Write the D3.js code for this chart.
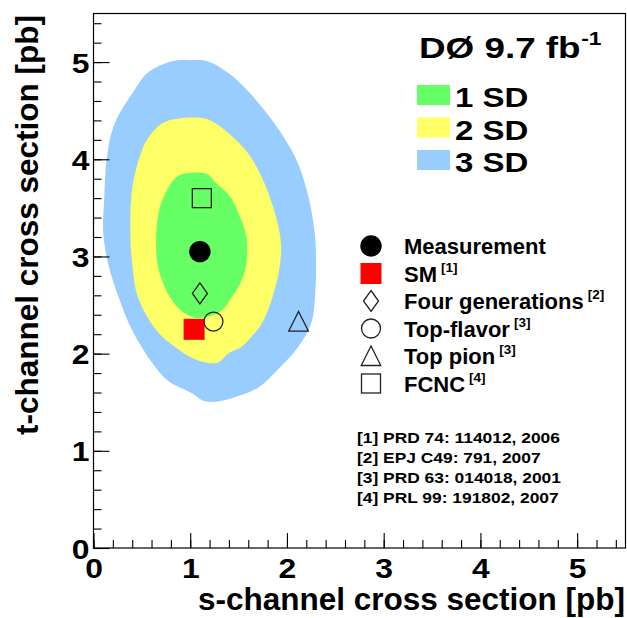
<!DOCTYPE html>
<html>
<head>
<meta charset="utf-8">
<script src="https://cdn.jsdelivr.net/npm/d3@7"></script>
<style>
  html, body { margin: 0; padding: 0; background: #fff; }
  svg { display: block; }
  text { font-family: "Liberation Sans", Arial, Helvetica, sans-serif; font-weight: bold; fill: #000; }
</style>
</head>
<body>
<svg id="chart" width="627" height="618"></svg>
<script>
// Confidence regions in the (s-channel, t-channel) cross-section plane, in pb
const contour3SD = [
  [0.82,5.01],[1.00,5.02],[1.17,5.01],[1.39,4.89],[1.58,4.72],[1.87,4.37],[2.08,4.03],
  [2.20,3.70],[2.29,3.21],[2.29,2.58],[2.25,2.31],[2.11,2.06],[1.90,1.83],[1.70,1.65],
  [1.46,1.55],[1.30,1.51],[1.15,1.51],[1.02,1.59],[0.77,1.72],[0.61,1.90],[0.40,2.24],
  [0.26,2.58],[0.15,2.93],[0.10,3.26],[0.11,3.57],[0.14,4.03],[0.22,4.37],[0.43,4.72],
  [0.56,4.89]
];
const contour2SD = [
  [0.88,4.42],[1.15,4.42],[1.26,4.37],[1.46,4.21],[1.62,4.03],[1.79,3.70],[1.93,3.21],
  [1.93,2.93],[1.85,2.58],[1.74,2.31],[1.63,2.17],[1.53,2.07],[1.39,2.00],[1.29,1.91],
  [1.15,1.91],[1.01,1.96],[0.84,2.07],[0.65,2.24],[0.46,2.58],[0.40,2.93],[0.38,3.26],
  [0.40,3.70],[0.48,4.03],[0.56,4.21],[0.71,4.37]
];
const contour1SD = [
  [0.93,3.85],[1.17,3.85],[1.26,3.76],[1.41,3.62],[1.51,3.42],[1.58,3.21],[1.58,2.93],
  [1.53,2.75],[1.43,2.58],[1.32,2.44],[1.17,2.38],[1.05,2.37],[0.91,2.44],[0.79,2.58],
  [0.71,2.75],[0.66,2.93],[0.65,3.26],[0.69,3.52],[0.77,3.70],[0.84,3.80]
];

// Measured value and theory predictions (s-channel, t-channel) in pb
const modelNames  = ["Measurement", "SM", "Four generations", "Top-flavor", "Top pion", "FCNC"];
const modelRefs   = ["", "[1]", "[2]", "[3]", "[3]", "[4]"];
const modelSchan  = [1.10, 1.04, 1.10, 1.24, 2.12, 1.12];
const modelTchan  = [3.05, 2.25, 2.62, 2.33, 2.33, 3.60];
const modelShapes = ["dot", "filledSquare", "diamond", "circle", "triangle", "square"];

const regionLabels = ["1 SD", "2 SD", "3 SD"];
const regionColors = ["#66ff66", "#ffff66", "#99ccff"];

const references = [
  "[1] PRD 74: 114012, 2006",
  "[2] EPJ C49: 791, 2007",
  "[3] PRD 63: 014018, 2001",
  "[4] PRL 99: 191802, 2007"
];

const xMajorTicks = [0, 1, 2, 3, 4, 5];
const yMajorTicks = [0, 1, 2, 3, 4, 5];
const minorStep = 0.2;

const svg = d3.select("#chart");

const x = d3.scaleLinear().domain([0, 5.5]).range([93.5, 625.5]);
const y = d3.scaleLinear().domain([0, 5.5]).range([548, 13.5]);

// ---- filled confidence regions (outermost first)
const area = d3.line()
  .x(d => x(d[0]))
  .y(d => y(d[1]))
  .curve(d3.curveCatmullRomClosed.alpha(0.5));

const regions = [contour3SD, contour2SD, contour1SD];
const regionFill = [regionColors[2], regionColors[1], regionColors[0]];
svg.append("g").selectAll("path")
  .data(regions)
  .join("path")
  .attr("d", d => area(d))
  .attr("fill", (d, i) => regionFill[i])
  .attr("stroke", "none");

// ---- marker drawing
function drawMarker(g, shape, cx, cy) {
  const stroke = "#222";
  if (shape === "dot") {
    g.append("circle").attr("cx", cx).attr("cy", cy).attr("r", 10.7).attr("fill", "#000");
  } else if (shape === "filledSquare") {
    g.append("rect").attr("x", cx - 10.5).attr("y", cy - 10.5)
      .attr("width", 21).attr("height", 21).attr("fill", "#ff0000");
  } else if (shape === "diamond") {
    g.append("path")
      .attr("d", `M${cx},${cy - 10.5}L${cx + 7.5},${cy}L${cx},${cy + 10.5}L${cx - 7.5},${cy}Z`)
      .attr("fill", "none").attr("stroke", stroke).attr("stroke-width", 1.3);
  } else if (shape === "circle") {
    g.append("circle").attr("cx", cx).attr("cy", cy).attr("r", 9.5)
      .attr("fill", "none").attr("stroke", stroke).attr("stroke-width", 1.3);
  } else if (shape === "triangle") {
    g.append("path")
      .attr("d", `M${cx},${cy - 10}L${cx + 9.8},${cy + 9.5}L${cx - 9.8},${cy + 9.5}Z`)
      .attr("fill", "none").attr("stroke", stroke).attr("stroke-width", 1.3);
  } else if (shape === "square") {
    g.append("rect").attr("x", cx - 9.5).attr("y", cy - 9.5)
      .attr("width", 19).attr("height", 19)
      .attr("fill", "none").attr("stroke", stroke).attr("stroke-width", 1.3);
  }
}

const markers = svg.append("g");
modelNames.forEach((name, i) => {
  drawMarker(markers, modelShapes[i], x(modelSchan[i]), y(modelTchan[i]));
});

// ---- frame
const [x0, x1] = x.range();
const [y0, y1] = y.range();
svg.append("rect")
  .attr("x", x0).attr("y", y1)
  .attr("width", x1 - x0).attr("height", y0 - y1)
  .attr("fill", "none").attr("stroke", "#000").attr("stroke-width", 1.2);

// ---- axes: ticks point into the frame
const minorVals = d3.range(0, 5.5 + 1e-9, minorStep).map(v => +v.toFixed(1));

const yMinor = svg.append("g").attr("transform", `translate(${x0},0)`)
  .call(d3.axisLeft(y).tickValues(minorVals).tickSize(-8).tickFormat(""));
const yMajor = svg.append("g").attr("transform", `translate(${x0},0)`)
  .call(d3.axisLeft(y).tickValues(yMajorTicks).tickSize(-16).tickPadding(3.5).tickFormat(d3.format("d")));
const xMinor = svg.append("g").attr("transform", `translate(0,${y0})`)
  .call(d3.axisBottom(x).tickValues(minorVals).tickSize(-8).tickFormat(""));
const xMajor = svg.append("g").attr("transform", `translate(0,${y0})`)
  .call(d3.axisBottom(x).tickValues(xMajorTicks).tickSize(-15).tickPadding(11).tickFormat(d3.format("d")));

[yMinor, yMajor, xMinor, xMajor].forEach(g => {
  g.select(".domain").remove();
  g.selectAll("line").attr("stroke", "#000").attr("stroke-width", 1.1);
  g.attr("font-family", null).attr("font-size", null);
});
yMajor.selectAll("text")
  .style("font-size", "27px").attr("dy", "0.37em")
  .attr("transform", "scale(1.18,1)");
xMajor.selectAll("text")
  .style("font-size", "27px")
  .attr("transform", "scale(1.18,1)");

// ---- axis titles
svg.append("text")
  .attr("x", 625).attr("y", 610)
  .attr("text-anchor", "end")
  .style("font-size", "31.5px")
  .text("s-channel cross section [pb]");

svg.append("text")
  .attr("transform", "translate(38,225) rotate(-90)")
  .attr("text-anchor", "middle")
  .style("font-size", "31.5px")
  .text("t-channel cross section [pb]");

// ---- experiment label
const title = svg.append("text")
  .attr("transform", "translate(419,57.5) scale(1.27,1)")
  .style("font-size", "29px");
title.append("tspan").text("DØ 9.7 fb");
title.append("tspan").attr("dy", -13).attr("dx", 0.5).style("font-size", "18px").text("-1");

// ---- confidence-level legend
const sdLegend = svg.append("g");
regionLabels.forEach((lab, i) => {
  const top = 85 + i * 32.5;
  sdLegend.append("rect")
    .attr("x", 417).attr("y", top).attr("width", 33).attr("height", 20)
    .attr("fill", regionColors[i]);
  sdLegend.append("text")
    .attr("transform", `translate(455,${top + 22}) scale(1.2,1)`)
    .style("font-size", "27.5px")
    .text(lab);
});

// ---- model legend
const modelLegend = svg.append("g");
modelNames.forEach((name, i) => {
  const cy = 246 + i * 27.5;
  drawMarker(modelLegend, modelShapes[i], 371, cy);
  const t = modelLegend.append("text")
    .attr("x", 404).attr("y", cy + 8)
    .style("font-size", "22px");
  t.append("tspan").text(name);
  if (modelRefs[i]) {
    t.append("tspan").attr("dx", 4).attr("dy", -10)
      .style("font-size", "13.5px").text(modelRefs[i]);
  }
});

// ---- references
const refs = svg.append("g");
references.forEach((r, i) => {
  refs.append("text")
    .attr("transform", `translate(357,${442.5 + i * 20}) scale(1.2,1)`)
    .style("font-size", "14.5px")
    .text(r);
});
</script>
</body>
</html>
